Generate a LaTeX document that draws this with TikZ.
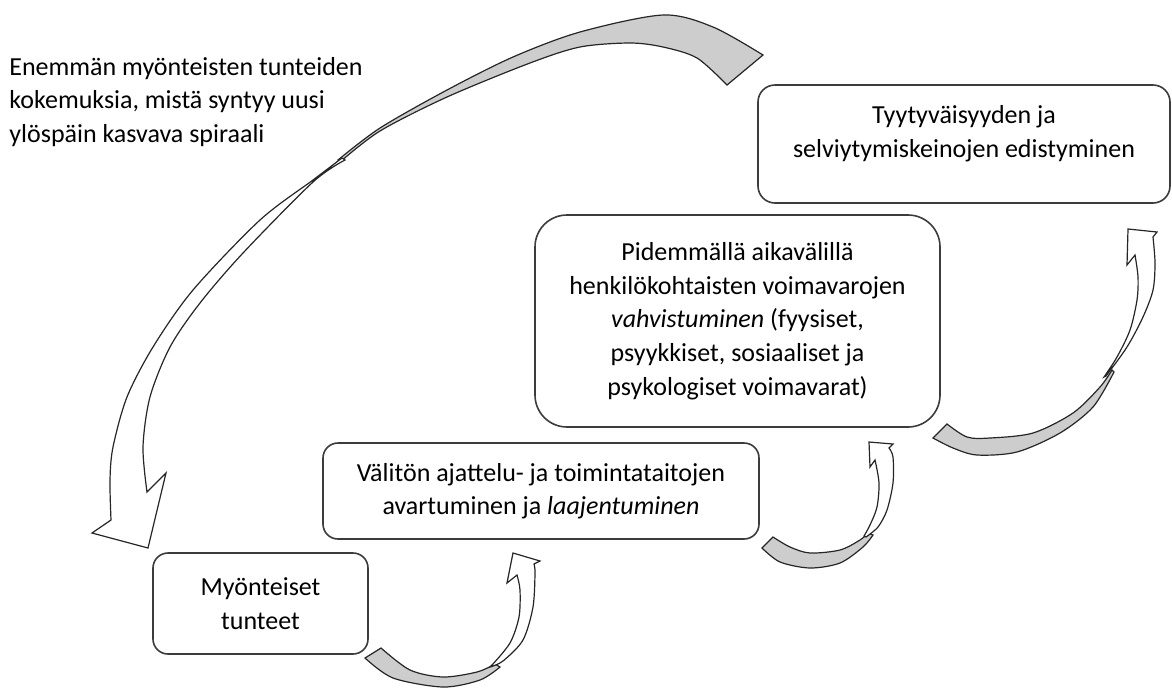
\documentclass[tikz,border=0pt]{standalone}
\usepackage{fontspec}
\setmainfont{Carlito}
\usepackage{tikz}
\definecolor{boxline}{RGB}{60,60,60}
\definecolor{backgrey}{RGB}{205,205,205}

\begin{document}
\begin{tikzpicture}[x=0.5pt, y=-0.5pt,
    box/.style={draw=boxline, line width=0.8pt, rounded corners=7.5pt, align=center,
      inner sep=0pt, font=\fontsize{13}{16.8}\selectfont},
    back/.style={draw=black!85, line width=0.6pt, fill=backgrey},
    front/.style={draw=black!85, line width=0.6pt, fill=white}]
    % spiraali: tunteet -> taidot -> voimavarat -> tyytyvaisyys
    \useasboundingbox (0,0) rectangle (1172,687);
    \node[font=\fontsize{13}{16.8}\selectfont, align=left, anchor=west, inner sep=0pt] (spiral) at (9,102)
        {Enemmän myönteisten tunteiden\\kokemuksia, mistä syntyy uusi\\ylöspäin kasvava spiraali};
    \node[box, minimum width=107.5pt, minimum height=50.5pt] (mt) at (260.5,603.5) {Myönteiset\\tunteet};
    \node[box, minimum width=218pt, minimum height=48pt] (va) at (541,491)
        {Välitön ajattelu- ja toimintataitojen\\avartuminen ja \textit{laajentuminen}};
    \node[box, rounded corners=16pt, minimum width=202.5pt, minimum height=106pt] (pv) at (737.5,321)
        {Pidemmällä aikavälillä\\henkilökohtaisten voimavarojen\\\textit{vahvistuminen} (fyysiset,\\psyykkiset, sosiaaliset ja\\psykologiset voimavarat)};
    \node[box, rounded corners=8.5pt, minimum width=206pt, minimum height=59pt] (ty) at (964,144)
        {Tyytyväisyyden ja\\selviytymiskeinojen edistyminen\\[-4pt]\mbox{}};

    % tunteet -> taidot
    \filldraw[back] plot[smooth] coordinates {(381,648) (410,670) (443,677) (477,672) (495,664)}
        -- plot[smooth] coordinates {(500,667) (480,680) (443,687) (393,678) (365,658)} -- cycle;
    \filldraw[front] plot[smooth] coordinates {(490,667) (503,661) (523,640) (533,607) (535,573) (534,564)}
        -- (540,561) -- (513,553) -- (507,583)
        -- plot[smooth] coordinates {(517,575) (520,590) (519,617) (510,643) (492,665)} -- cycle;

    % taidot -> voimavarat
    \filldraw[back] plot[smooth] coordinates {(773,537) (790,547) (810,553) (840,550) (860,540) (868,533)}
        -- plot[smooth] coordinates {(873,535) (863,547) (840,563) (810,568) (780,562) (762,548)} -- cycle;
    \filldraw[front] plot[smooth] coordinates {(866,537) (878,527) (887,510) (893,483) (893,457) (889,448)}
        -- (893,444) -- (869,442) -- (870,467)
        -- plot[smooth] coordinates {(875,460) (879,483) (877,507) (870,525) (864,536)} -- cycle;

    % voimavarat -> tyytyvaisyys
    \filldraw[back] plot[smooth] coordinates {(947,424) (967,437) (990,438) (1033,433) (1073,413) (1100,387) (1112,370)}
        -- plot[smooth] coordinates {(1114,372) (1093,407) (1060,433) (1017,452) (977,455) (953,448) (933,438)} -- cycle;
    \filldraw[front] plot[smooth] coordinates {(1106,376) (1127,347) (1143,317) (1153,290) (1155,263) (1153,237)}
        -- (1157,232) -- (1128,229) -- (1127,265)
        -- plot[smooth] coordinates {(1135,255) (1138,277) (1137,300) (1130,330) (1117,357) (1104,377)} -- cycle;

    % uusi kierros takaisin tunteisiin
    \filldraw[back] plot[smooth] coordinates {(338,160) (380,128) (447,90) (513,57) (580,32) (663,15) (713,27) (763,55)}
        -- plot[smooth] coordinates {(727,85) (697,58) (663,47) (630,43) (580,47) (530,63) (447,97) (380,131) (340,162)} -- cycle;
    \filldraw[front] plot[smooth] coordinates {(342,158) (313,180) (260,220) (193,290) (153,347) (127,397) (113,447) (110,480) (111,520)}
        -- (92,533) -- (148,548) -- (166,473)
        -- plot[smooth] coordinates {(147,492) (143,447) (150,397) (170,347) (200,303) (243,253) (313,182) (345,160)} -- cycle;
\end{tikzpicture}
\end{document}
